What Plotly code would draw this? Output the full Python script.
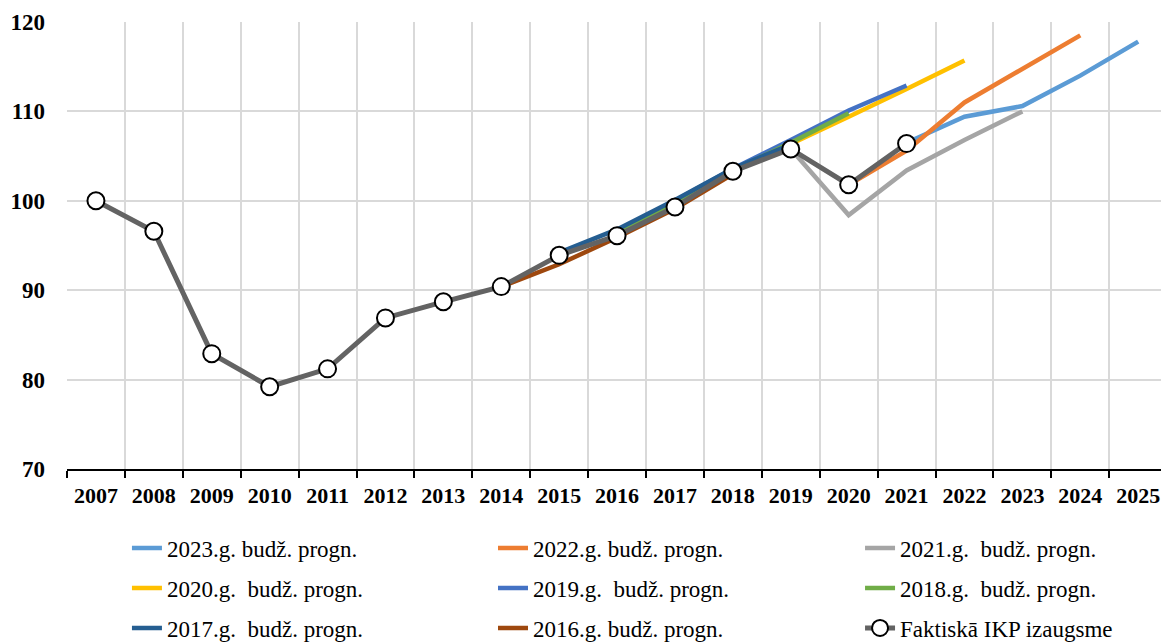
import plotly.graph_objects as go

years = [str(y) for y in range(2007, 2026)]

actual = [100.0, 96.6, 82.9, 79.2, 81.2, 86.9, 88.7, 90.4, 93.9, 96.1, 99.3, 103.3, 105.8, 101.8, 106.4,
          None, None, None, None]

f2023 = [None] * 14 + [106.5, 109.4, 110.6, 114.0, 117.8]
f2022 = [None] * 13 + [101.8, 105.6, 111.0, 114.8, 118.5, None]
f2021 = [None] * 12 + [105.8, 98.4, 103.4, 106.8, 110.0, None, None]
f2020 = [None] * 11 + [103.3, 106.3, 109.4, 112.5, 115.7, None, None, None]
f2019 = [None] * 10 + [100.0, 103.6, 106.8, 110.1, 112.9, None, None, None, None]
f2018 = [None] * 9 + [96.4, 99.8, 103.4, 106.5, 109.8, None, None, None, None, None]
f2017 = [None] * 8 + [94.2, 96.8, 100.1, 103.6, 106.3, None, None, None, None, None, None]
f2016 = [None] * 7 + [90.4, 92.9, 95.9, 99.1, 103.0, None, None, None, None, None, None, None]

series = [
    ("2023.g. budž. progn.", f2023, "#5B9BD5"),
    ("2022.g. budž. progn.", f2022, "#ED7D31"),
    ("2021.g.  budž. progn.", f2021, "#A5A5A5"),
    ("2020.g.  budž. progn.", f2020, "#FFC000"),
    ("2019.g.  budž. progn.", f2019, "#4472C4"),
    ("2018.g.  budž. progn.", f2018, "#70AD47"),
    ("2017.g.  budž. progn.", f2017, "#255E91"),
    ("2016.g. budž. progn.", f2016, "#9E480E"),
]

FONT = "Times New Roman, Liberation Serif, serif"

# legend grid: 3 columns x 3 rows, one legend per entry
col_x = [0.0548, 0.3894, 0.7249]
row_y = [-0.1767, -0.2662, -0.3557]
leg_names = ["legend"] + ["legend%d" % i for i in range(2, 10)]

fig = go.Figure()
for i, (name, vals, color) in enumerate(series):
    fig.add_trace(go.Scatter(x=years, y=vals, name=name, mode="lines",
                             line=dict(color=color, width=4.5), legend=leg_names[i]))

fig.add_trace(go.Scatter(x=years, y=actual, name="Faktiskā IKP izaugsme", mode="lines+markers",
                         line=dict(color="#636363", width=5),
                         marker=dict(size=17, color="white", line=dict(color="black", width=2)),
                         legend=leg_names[8]))

legends = {}
for i, ln in enumerate(leg_names):
    legends[ln] = dict(x=col_x[i % 3], y=row_y[i // 3], xanchor="left", yanchor="middle",
                       font=dict(family=FONT, size=23, color="black"),
                       bgcolor="rgba(0,0,0,0)")

# page body adds an 8px margin, so the figure is offset by that much
fig.update_layout(
    width=1153, height=634,
    margin=dict(l=59, r=0, t=14, b=173, autoexpand=False),
    paper_bgcolor="white", plot_bgcolor="white",
    showlegend=True,
    **legends,
)

fig.update_xaxes(type="category", range=[-0.5, 18.394], tickson="boundaries", automargin=False,
                 showgrid=True, gridcolor="#D9D9D9", gridwidth=2,
                 showline=True, linecolor="black", linewidth=2,
                 ticks="outside", ticklen=7, tickwidth=2, tickcolor="black",
                 tickfont=dict(family=FONT, size=22, color="black", weight="bold"),
                 ticklabelstandoff=6)

fig.update_yaxes(range=[70, 120], dtick=10, automargin=False,
                 showgrid=True, gridcolor="#D9D9D9", gridwidth=2,
                 showline=False, zeroline=False, ticks="",
                 tickfont=dict(family=FONT, size=23, color="black", weight="bold"),
                 ticklabelstandoff=21)

fig.write_html("out.html")
